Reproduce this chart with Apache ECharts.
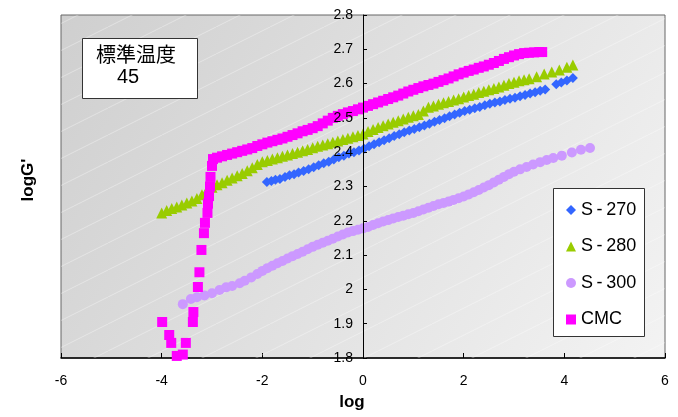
<!DOCTYPE html>
<html>
<head>
<meta charset="utf-8">
<script src="https://cdn.jsdelivr.net/npm/echarts@6/dist/echarts.min.js"></script>
<style>
  html, body { margin: 0; padding: 0; background: #fff; }
  #root { width: 678px; height: 417px; }
</style>
</head>
<body>
<div id="root"></div>
<script>
// values
const s270X = [-1.91,-1.82,-1.74,-1.65,-1.55,-1.46,-1.37,-1.28,-1.18,-1.08,-0.98,-0.88,-0.78,-0.68,-0.58,-0.48,-0.38,-0.28,-0.18,-0.08,
  0.02,0.12,0.22,0.32,0.42,0.52,0.62,0.72,0.82,0.92,1.02,1.12,1.22,1.32,1.42,1.52,1.62,1.72,1.82,1.92,
  2.02,2.12,2.22,2.32,2.42,2.52,2.62,2.72,2.82,2.92,3.02,3.12,3.22,3.32,3.42,3.52,3.62,3.84,3.94,4.05,4.17];
const s270Y = [2.313,2.316,2.320,2.322,2.328,2.333,2.336,2.341,2.345,2.350,2.356,2.362,2.368,2.372,2.379,2.385,2.390,2.396,2.400,2.405,
  2.410,2.417,2.423,2.429,2.435,2.441,2.447,2.452,2.458,2.463,2.468,2.473,2.478,2.483,2.489,2.494,2.499,2.505,2.510,2.515,
  2.520,2.524,2.528,2.532,2.537,2.541,2.545,2.548,2.552,2.556,2.559,2.563,2.567,2.571,2.575,2.579,2.583,2.598,2.603,2.609,2.616];

const s280X = [-4.0,-3.9,-3.8,-3.7,-3.6,-3.5,-3.4,-3.3,-3.2,-3.1,-3.0,-2.9,-2.8,-2.7,-2.6,-2.5,-2.4,-2.3,-2.2,-2.1,
  -2.0,-1.9,-1.8,-1.7,-1.6,-1.5,-1.4,-1.3,-1.2,-1.1,-1.0,-0.9,-0.8,-0.7,-0.6,-0.5,-0.4,-0.3,-0.2,-0.1,
  0.0,0.1,0.2,0.3,0.4,0.5,0.6,0.7,0.8,0.9,1.0,1.1,1.2,1.3,1.4,1.5,1.6,1.7,1.8,1.9,
  2.0,2.1,2.2,2.3,2.4,2.5,2.6,2.7,2.8,2.9,3.0,3.1,3.2,3.3,3.45,3.6,3.75,3.9,4.05,4.17];
const s280Y = [2.223,2.230,2.236,2.240,2.246,2.252,2.258,2.265,2.276,2.288,2.298,2.305,2.311,2.318,2.325,2.331,2.338,2.346,2.355,2.364,
  2.372,2.376,2.380,2.384,2.388,2.392,2.396,2.400,2.404,2.408,2.413,2.417,2.421,2.425,2.429,2.433,2.437,2.441,2.445,2.449,
  2.453,2.460,2.466,2.472,2.477,2.482,2.487,2.492,2.497,2.502,2.506,2.510,2.520,2.531,2.535,2.540,2.544,2.548,2.552,2.556,
  2.561,2.565,2.569,2.574,2.578,2.582,2.586,2.590,2.595,2.600,2.604,2.608,2.611,2.614,2.620,2.628,2.634,2.640,2.648,2.654];

const s300X = [-3.58,-3.42,-3.30,-3.15,-3.00,-2.85,-2.72,-2.60,-2.45,-2.35,-2.22,-2.10,-2.00,-1.90,-1.80,-1.70,-1.60,-1.50,-1.40,-1.30,
  -1.20,-1.10,-1.00,-0.90,-0.80,-0.70,-0.60,-0.50,-0.40,-0.30,-0.20,-0.10,0.00,0.10,0.20,0.30,0.40,0.50,0.60,0.70,
  0.80,0.90,1.00,1.10,1.20,1.30,1.40,1.50,1.60,1.70,1.80,1.90,2.00,2.10,2.20,2.30,2.40,2.50,2.60,2.70,
  2.80,2.90,3.00,3.12,3.25,3.38,3.52,3.65,3.78,3.95,4.15,4.33,4.51];
const s300Y = [1.957,1.972,1.977,1.982,1.989,1.998,2.006,2.010,2.018,2.025,2.035,2.045,2.054,2.062,2.069,2.076,2.083,2.090,2.097,2.103,
  2.110,2.117,2.124,2.130,2.136,2.142,2.148,2.154,2.160,2.166,2.170,2.174,2.178,2.182,2.188,2.193,2.198,2.202,2.207,2.211,
  2.215,2.219,2.223,2.228,2.233,2.238,2.243,2.248,2.252,2.256,2.261,2.266,2.271,2.277,2.283,2.290,2.297,2.304,2.312,2.320,
  2.328,2.336,2.343,2.350,2.357,2.364,2.371,2.377,2.383,2.390,2.399,2.407,2.412];

const cmcX = [-3.99,-3.85,-3.81,-3.70,-3.58,-3.52,-3.38,-3.37,-3.28,-3.25,-3.21,-3.16,-3.14,-3.09,-3.08,-3.06,-3.04,-3.03,-3.00,-2.98,
  -2.90,-2.80,-2.70,-2.60,-2.50,-2.40,-2.30,-2.20,-2.10,-2.00,-1.90,-1.80,-1.70,-1.60,-1.50,-1.40,-1.30,-1.20,-1.10,-1.00,
  -0.90,-0.80,-0.70,-0.60,-0.50,-0.40,-0.30,-0.20,-0.10,0.00,0.10,0.20,0.30,0.40,0.50,0.60,0.70,0.80,0.90,1.00,
  1.10,1.20,1.30,1.40,1.50,1.60,1.70,1.80,1.90,2.00,2.10,2.20,2.30,2.40,2.50,2.60,2.70,2.80,2.90,3.00,
  3.10,3.20,3.30,3.40,3.50,3.56];
const cmcY = [1.905,1.867,1.844,1.806,1.810,1.844,1.905,1.934,2.007,2.050,2.115,2.164,2.194,2.223,2.250,2.272,2.300,2.328,2.360,2.380,
  2.384,2.388,2.392,2.396,2.400,2.404,2.408,2.412,2.418,2.423,2.428,2.432,2.436,2.440,2.445,2.450,2.455,2.461,2.465,2.470,
  2.476,2.484,2.492,2.500,2.506,2.511,2.516,2.520,2.525,2.530,2.535,2.540,2.545,2.550,2.555,2.560,2.565,2.571,2.577,2.582,
  2.587,2.592,2.596,2.600,2.605,2.610,2.615,2.621,2.627,2.632,2.637,2.641,2.646,2.650,2.655,2.660,2.666,2.672,2.677,2.682,
  2.686,2.689,2.690,2.691,2.692,2.692];

const seriesNames = ['S-270', 'S-280', 'S-300', 'CMC'];
const xTicks = [-6, -4, -2, 0, 2, 4, 6];

function zip(xs, ys) {
  return xs.map((x, i) => [x, ys[i]]);
}

const FONT = '"Liberation Sans", Arial, sans-serif';

// grid geometry
const gridLeft = 61, gridTop = 15, gridW = 604, gridH = 343;

// faint diagonal lines on the plot background
const tile = document.createElement('canvas');
tile.width = 54;
tile.height = 27;
const tctx = tile.getContext('2d');
tctx.strokeStyle = 'rgba(255,255,255,0.35)';
tctx.lineWidth = 1;
tctx.beginPath();
tctx.moveTo(0, 27);
tctx.lineTo(54, 0);
tctx.stroke();

let myChart = echarts.init(document.getElementById('root'));

let option = {
  animation: false,
  grid: {
    left: gridLeft, right: 678 - gridLeft - gridW, top: gridTop, bottom: 417 - gridTop - gridH,
    show: true,
    borderColor: '#666',
    borderWidth: 1,
    backgroundColor: {
      type: 'linear', x: 0, y: 0, x2: 1, y2: 1,
      colorStops: [
        { offset: 0, color: '#cfcfcf' },
        { offset: 1, color: '#f3f3f3' }
      ]
    }
  },
  legend: {
    orient: 'vertical',
    left: 566,
    top: 201,
    padding: 0,
    itemWidth: 10,
    itemHeight: 10,
    itemGap: 18.5,
    data: seriesNames,
    formatter: name => name.replace('-', '\u2009-\u2009'),
    textStyle: { fontSize: 18, color: '#000', fontFamily: FONT }
  },
  xAxis: {
    type: 'value',
    min: xTicks[0],
    max: xTicks[xTicks.length - 1],
    interval: 2,
    axisLine: { onZero: false, lineStyle: { color: '#000', width: 1.5 } },
    axisTick: { inside: true, length: 5, lineStyle: { color: '#000' } },
    axisLabel: { color: '#000', fontSize: 14, margin: 16, fontFamily: FONT },
    splitLine: { show: false }
  },
  yAxis: {
    type: 'value',
    min: 1.8,
    max: 2.8,
    interval: 0.1,
    position: 'left',
    // move the axis in to x = 0 (the middle of the plot), drawn over the marks
    offset: -gridW / 2,
    z: 10,
    axisLine: { show: true, onZero: false, lineStyle: { color: '#000', width: 1 } },
    axisTick: { show: true, inside: true, length: 4, lineStyle: { color: '#000' } },
    axisLabel: { color: '#000', fontSize: 14, margin: 10, fontFamily: FONT },
    splitLine: { show: false }
  },
  graphic: [
    {
      type: 'rect', z: 1, silent: true,
      shape: { x: gridLeft, y: gridTop, width: gridW, height: gridH },
      style: { fill: { image: tile, repeat: 'repeat' } }
    },
    {
      type: 'rect', z: 5,
      shape: { x: 82.5, y: 38.5, width: 115, height: 60 },
      style: { fill: '#fff', stroke: '#333', lineWidth: 1 }
    },
    {
      type: 'text', z: 6, x: 96, y: 54,
      style: { text: '標準温度', font: '20px "Noto Sans CJK JP", sans-serif', fill: '#000', verticalAlign: 'middle' }
    },
    {
      type: 'text', z: 6, x: 117, y: 77,
      style: { text: '45', font: '20px ' + FONT, fill: '#000', verticalAlign: 'middle' }
    },
    {
      type: 'rect', z: 3,
      shape: { x: 553.5, y: 188.5, width: 91, height: 148 },
      style: { fill: '#fff', stroke: '#333', lineWidth: 1 }
    },
    {
      type: 'text', x: 28, y: 180, rotation: Math.PI / 2,
      style: { text: "logG'", font: 'bold 17px ' + FONT, fill: '#000', align: 'center', verticalAlign: 'middle' }
    },
    {
      type: 'text', x: 352, y: 402,
      style: { text: 'log', font: 'bold 17px ' + FONT, fill: '#000', align: 'center', verticalAlign: 'middle' }
    }
  ],
  series: [
    {
      name: seriesNames[0], type: 'scatter', symbol: 'diamond', symbolSize: 10,
      itemStyle: { color: '#3366ff', opacity: 1 },
      data: zip(s270X, s270Y)
    },
    {
      name: seriesNames[1], type: 'scatter', symbol: 'triangle', symbolSize: 11,
      itemStyle: { color: '#99cc00', opacity: 1 },
      data: zip(s280X, s280Y)
    },
    {
      name: seriesNames[2], type: 'scatter', symbol: 'circle', symbolSize: 10,
      itemStyle: { color: '#cc99ff', opacity: 1 },
      data: zip(s300X, s300Y)
    },
    {
      name: seriesNames[3], type: 'scatter', symbol: 'rect', symbolSize: 10,
      itemStyle: { color: '#ff00ff', opacity: 1 },
      data: zip(cmcX, cmcY)
    }
  ]
};

myChart.setOption(option);
</script>
</body>
</html>
